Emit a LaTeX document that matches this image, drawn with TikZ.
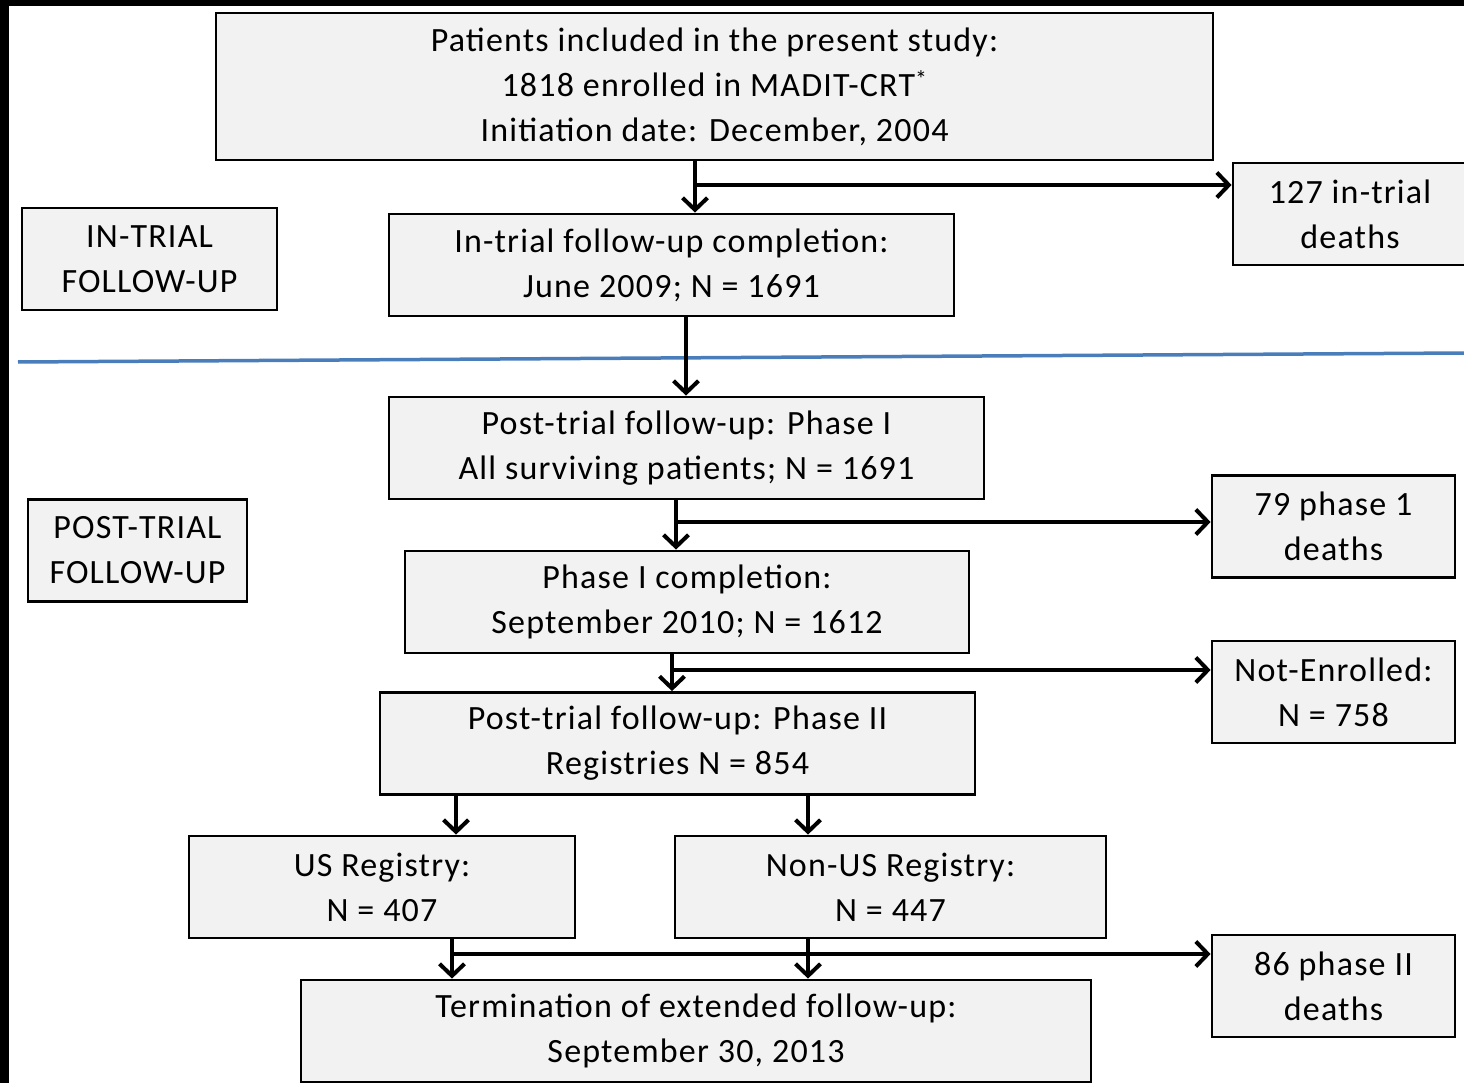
\documentclass[tikz,border=0pt]{standalone}
\usepackage{fontspec}
\setmainfont{Carlito}[LetterSpace=3.5]
\usepackage{tikz}
\usetikzlibrary{arrows.meta}
\usetikzlibrary{positioning}

\definecolor{rule}{RGB}{74,126,187}

\begin{document}
\begin{tikzpicture}[x=1pt,y=-1pt,>={Straight Barb[length=12pt,width=25pt]},
	box/.style={draw, line width=2.8pt, fill=black!5, align=center, inner sep=0pt,
		minimum height=102pt, font=\fontsize{34}{45}\selectfont},
	arr/.style={->, line width=4pt}]
	\useasboundingbox (0,0) rectangle (1464,1083);
	\fill[black] (0,0) rectangle (1464,6);
	\fill[black] (0,0) rectangle (9,1083);

	\node[box, minimum width=997pt, minimum height=147pt] (start) at (714.5,86.5)
		{Patients included in the present study:\\1818 enrolled in MADIT-CRT\textsuperscript{*}\\Initiation date: December, 2004};
	\node[box, minimum width=234pt] (itdeath) at (1350,214) {127 in-trial\\deaths};
	\node[box, minimum width=255pt] (intrial) at (149.5,259) {IN-TRIAL\\FOLLOW-UP};
	\node[box, minimum width=565pt] (itdone) at (671.5,265) {In-trial follow-up completion:\\June 2009; N = 1691};

	\draw[rule, line width=3.5pt] (18,362) -- (1464,353);

	\node[box, minimum width=595pt] (phase1) at (686.5,448) {Post-trial follow-up: Phase I\\All surviving patients; N = 1691};
	\node[box, minimum width=219pt] (posttrial) at (137.5,550.5) {POST-TRIAL\\FOLLOW-UP};
	\node[box, minimum width=243pt] (p1death) at (1333.5,526.5) {79 phase 1\\deaths};
	\node[box, minimum width=564pt] (p1done) at (687,602) {Phase I completion:\\September 2010; N = 1612};
	\node[box, minimum width=243pt] (notenr) at (1333.5,692) {Not-Enrolled:\\N = 758};
	\node[box, minimum width=595pt] (phase2) at (677.5,743.5) {Post-trial follow-up: Phase II\\Registries N = 854};
	\node[box, minimum width=386pt] (us) at (382,887) {US Registry:\\N = 407};
	\node[box, minimum width=431pt] (nonus) at (890.5,887) {Non-US Registry:\\N = 447};
	\node[box, minimum width=243pt] (p2death) at (1333.5,986) {86 phase II\\deaths};
	\node[box, minimum width=790pt] (term) at (696,1031) {Termination of extended follow-up:\\September 30, 2013};

	\coordinate (j1) at (695,185);
	\coordinate (j2) at (676,522);
	\coordinate (j3) at (672,670);
	\coordinate (j4) at (452,954);

	\draw[arr] (start.south -| j1) -- (itdone.north -| j1);
	\draw[arr] (j1) -- (j1 -| itdeath.west);
	\draw[arr] (itdone.south -| 686,0) -- (phase1.north -| 686,0);
	\draw[arr] (phase1.south -| j2) -- (p1done.north -| j2);
	\draw[arr] (j2) -- (j2 -| p1death.west);
	\draw[arr] (p1done.south -| j3) -- (phase2.north -| j3);
	\draw[arr] (j3) -- (j3 -| notenr.west);
	\draw[arr] (phase2.south -| 456,0) -- (us.north -| 456,0);
	\draw[arr] (phase2.south -| 808,0) -- (nonus.north -| 808,0);
	\draw[arr] (us.south -| j4) -- (term.north -| j4);
	\draw[arr] (nonus.south -| 808,0) -- (term.north -| 808,0);
	\draw[arr] (j4) -- (j4 -| p2death.west);
\end{tikzpicture}
\end{document}
